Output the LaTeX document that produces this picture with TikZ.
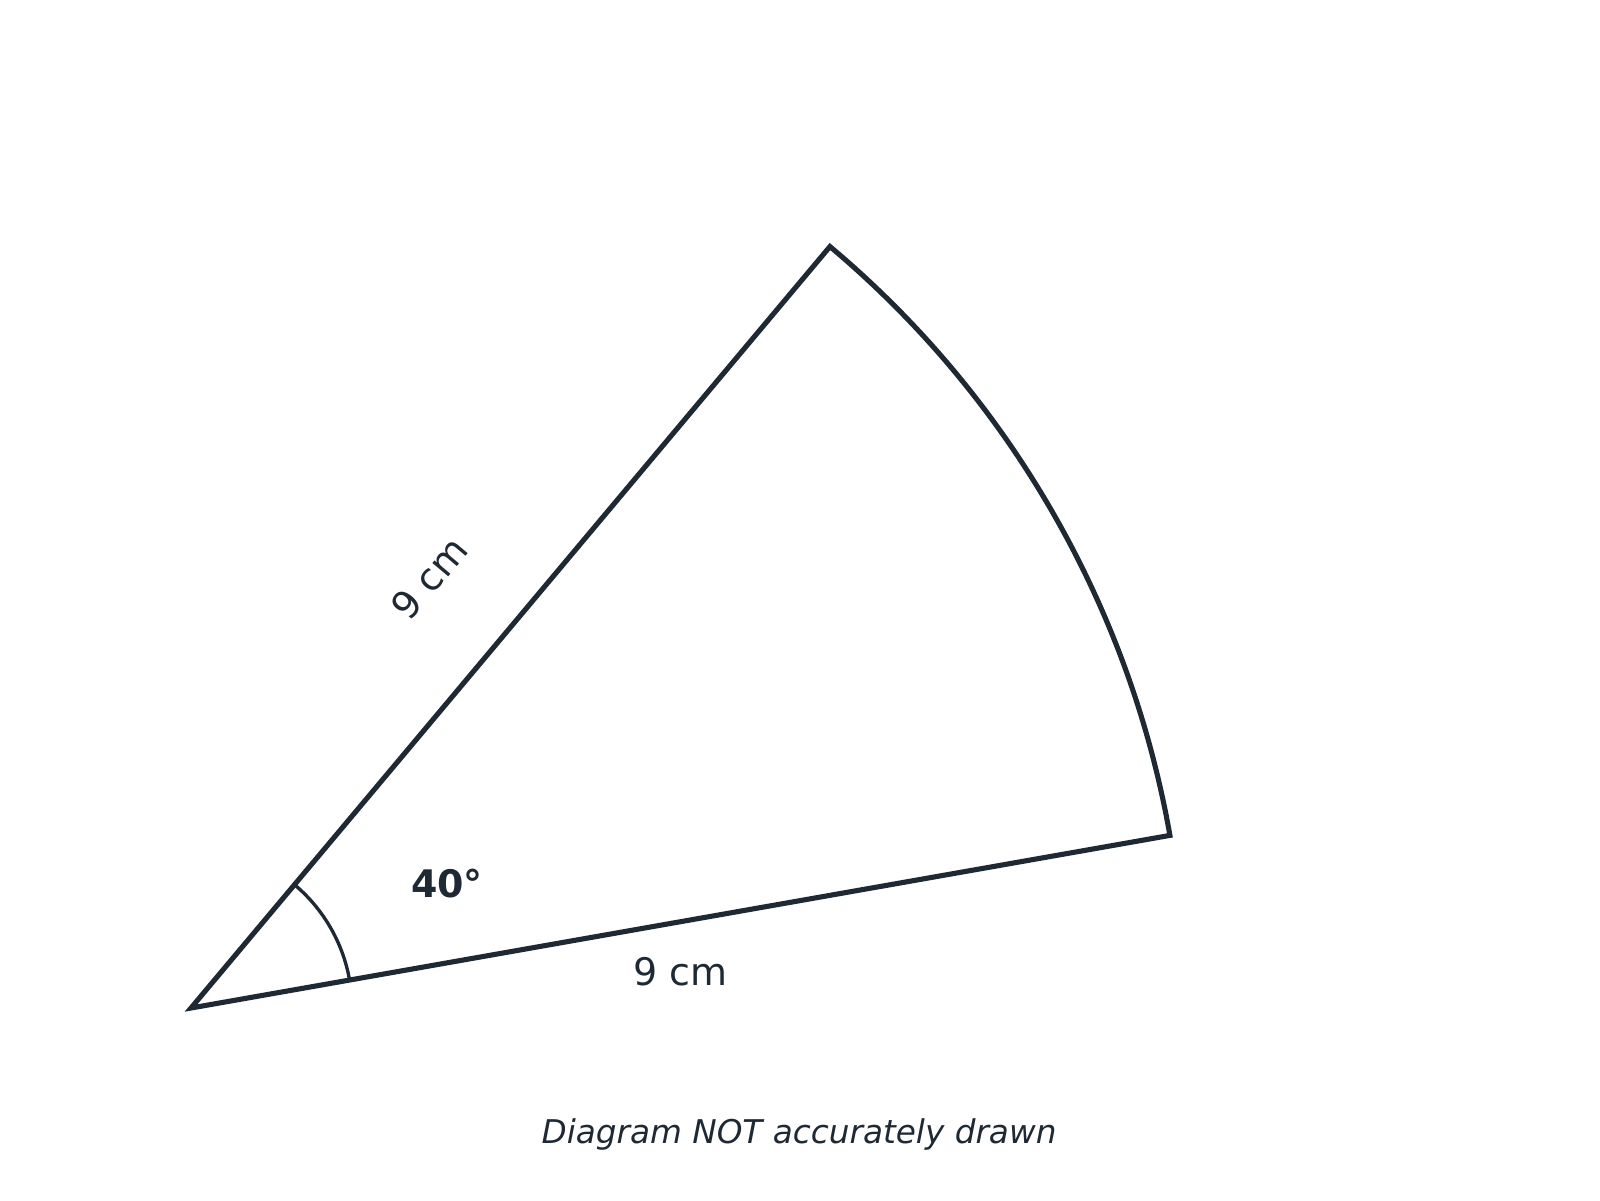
\documentclass[tikz,border=0pt]{standalone}
\usepackage{fontspec}
\setmainfont{DejaVu Sans}
\usetikzlibrary{calc}
\definecolor{ink}{HTML}{1F2933}
\begin{document}
\begin{tikzpicture}[
  sector/.style={draw=ink, line width=1.45pt, line join=miter},
  anglemark/.style={draw=ink, line width=0.95pt},
  lbl/.style={text=ink, font=\fontsize{10.8}{12}\selectfont, inner sep=0pt},
  anglelbl/.style={text=ink, font=\fontsize{10.8}{12}\selectfont\bfseries, inner sep=0pt},
  caption/.style={text=ink, font=\fontsize{9.3}{11}\selectfont\itshape, inner sep=0pt}
]
\useasboundingbox (0,0) rectangle (16,12);
\coordinate (O) at (1.91,1.92);
\coordinate (A) at ($(O)+(50:9.94)$);
\coordinate (B) at ($(O)+(10:9.94)$);
\draw[sector] (O) -- (A) arc[start angle=50, end angle=10, radius=9.94] -- cycle;
\coordinate (M1) at ($(O)+(50:1.61)$);
\draw[anglemark] (M1) arc[start angle=50, end angle=10, radius=1.61];
\node[lbl, rotate=50] (lA) at (4.29,6.22) {9 cm};
\node[lbl] (lB) at (6.806,2.285) {9 cm};
\node[anglelbl] (ang) at (4.47,3.165) {40°};
\node[caption] (cap) at (7.99,0.655) {Diagram NOT accurately drawn};
\end{tikzpicture}
\end{document}
